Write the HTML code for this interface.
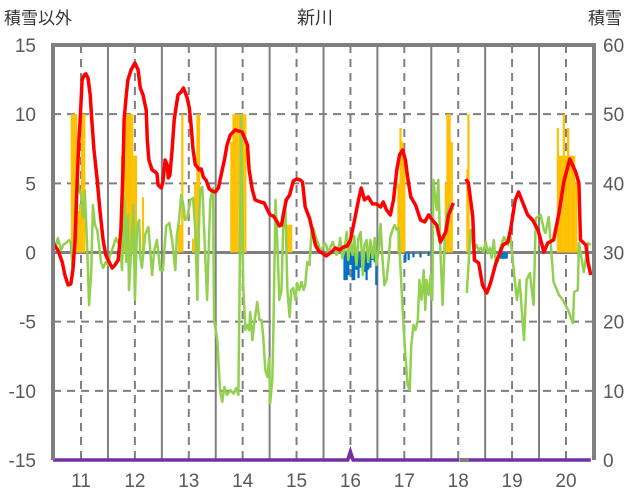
<!DOCTYPE html>
<html><head><meta charset="utf-8">
<style>
html,body{margin:0;padding:0;background:#fff;}
svg{display:block;font-family:"Liberation Sans","Noto Sans CJK JP",sans-serif;}
</style></head>
<body>
<svg id="chart" width="636" height="501" viewBox="0 0 636 501">
  <text x="315" y="24" font-size="18" fill="#333" text-anchor="middle">新川</text>
  <text x="4" y="24" font-size="17" fill="#333">積雪以外</text>
  <text x="588" y="24" font-size="17" fill="#333">積雪</text>
  <g id="grid"></g>
  <g id="bars"></g>
  <g id="lines"></g>
  <g id="axes"></g>
</svg>
<script>
const leftTicks = [15,10,5,0,-5,-10,-15];
const rightTicks = [60,50,40,30,20,10,0];
const yearLabels = [11,12,13,14,15,16,17,18,19,20];

const redT = [10.48,10.57,10.65,10.70,10.76,10.81,10.85,10.89,10.93,10.96,10.98,11.02,11.06,11.09,11.13,11.17,11.20,11.24,11.30,11.35,11.41,11.46,11.52,11.58,11.63,11.69,11.74,11.78,11.80,11.84,11.87,11.93,12.00,12.06,12.10,12.15,12.21,12.23,12.26,12.32,12.38,12.41,12.43,12.49,12.52,12.56,12.60,12.62,12.65,12.69,12.73,12.77,12.80,12.86,12.90,12.93,12.97,13.01,13.04,13.08,13.12,13.16,13.19,13.23,13.27,13.32,13.38,13.43,13.49,13.55,13.60,13.66,13.71,13.77,13.86,13.99,14.09,14.12,14.18,14.23,14.33,14.40,14.46,14.51,14.57,14.62,14.68,14.72,14.77,14.81,14.87,14.94,15.00,15.07,15.11,15.16,15.24,15.29,15.35,15.41,15.48,15.55,15.65,15.72,15.80,15.87,15.94,16.00,16.07,16.15,16.20,16.26,16.33,16.41,16.48,16.56,16.61,16.67,16.74,16.80,16.86,16.91,16.97,17.02,17.06,17.12,17.21,17.30,17.38,17.45,17.52,17.60,17.67,17.77,17.82,17.91,18.00,18.14,18.19,18.27,18.30,18.38,18.45,18.53,18.60,18.70,18.83,18.92,18.97,19.06,19.12,19.20,19.29,19.38,19.48,19.59,19.66,19.77,19.87,19.96,20.07,20.18,20.24,20.27,20.37,20.41,20.46];
const redV = [0.69,0.18,-0.69,-1.63,-2.35,-2.28,-1.27,0.90,5.24,8.13,9.22,12.47,12.83,12.91,12.62,11.39,9.58,7.41,5.24,3.07,0.90,-0.18,-0.69,-1.12,-0.90,-0.54,1.63,5.97,9.58,11.39,12.47,13.2,13.7,13.2,11.89,11.39,10.3,8.13,6.69,5.97,5.82,5.68,4.88,4.66,5.10,6.69,6.33,5.39,5.60,7.41,9.58,10.67,11.39,11.61,11.89,11.61,11.17,10.45,9.36,7.41,6.33,6.18,5.97,6.04,5.46,5.24,4.59,4.45,4.37,4.66,5.60,6.69,7.77,8.50,8.86,8.71,7.77,5.97,4.52,3.80,3.65,3.58,3.07,2.71,2.64,2.35,1.92,1.99,3.07,3.80,4.16,5.17,5.31,5.24,5.10,3.29,2.49,1.63,0.54,0.11,-0.04,-0.25,0.04,0.33,0.18,0.40,0.47,0.90,2.21,3.80,4.66,3.80,4.01,3.51,3.51,3.29,3.65,3.07,2.71,3.80,5.97,7.05,7.41,6.69,5.46,4.01,3.43,2.35,2.21,2.71,2.35,1.99,0.76,1.48,2.71,3.58,null,5.31,5.02,2.57,-0.54,-0.76,-2.35,-2.93,-2.21,-0.76,0.54,0.76,1.63,3.80,4.37,3.58,2.71,2.35,1.63,0.04,0.69,0.90,2.86,5.10,6.76,5.82,5.02,0.90,0.54,-0.76,-1.63];

const greenT = [10.48,10.54,10.57,10.63,10.67,10.72,10.78,10.81,10.85,10.89,10.93,10.96,11.00,11.04,11.07,11.11,11.15,11.19,11.22,11.26,11.30,11.33,11.37,11.41,11.46,11.50,11.54,11.59,11.65,11.69,11.72,11.76,11.80,11.84,11.87,11.89,11.93,11.97,12.00,12.04,12.08,12.10,12.13,12.19,12.25,12.28,12.32,12.36,12.41,12.47,12.52,12.58,12.64,12.69,12.75,12.78,12.82,12.86,12.90,12.93,12.97,13.03,13.08,13.12,13.16,13.17,13.21,13.25,13.30,13.34,13.40,13.45,13.47,13.53,13.58,13.62,13.66,13.71,13.77,13.83,13.88,13.92,13.96,13.97,14.01,14.05,14.09,14.12,14.14,14.18,14.21,14.27,14.31,14.35,14.38,14.42,14.46,14.49,14.51,14.55,14.57,14.61,14.64,14.68,14.72,14.75,14.79,14.83,14.87,14.90,14.94,14.98,15.01,15.05,15.09,15.13,15.16,15.20,15.24,15.28,15.31,15.35,15.41,15.44,15.48,15.52,15.55,15.59,15.63,15.67,15.70,15.74,15.78,15.81,15.85,15.89,15.93,15.96,16.00,16.04,16.07,16.11,16.15,16.19,16.23,16.26,16.30,16.33,16.37,16.41,16.45,16.48,16.52,16.56,16.59,16.63,16.67,16.71,16.74,16.78,16.82,16.86,16.89,16.93,16.95,16.99,17.02,17.06,17.10,17.13,17.17,17.21,17.25,17.28,17.32,17.36,17.39,17.41,17.45,17.49,17.52,17.54,17.60,17.63,17.67,17.71,17.75,17.78,17.84,17.91,18.00,18.16,18.23,18.29,18.34,18.38,18.42,18.47,18.51,18.55,18.59,18.62,18.66,18.70,18.74,18.77,18.85,18.92,18.97,19.03,19.09,19.14,19.18,19.22,19.27,19.33,19.40,19.44,19.53,19.59,19.62,19.68,19.77,19.87,19.94,20.04,20.13,20.15,20.22,20.24,20.33,20.41,20.46];
const greenV = [0.90,0.54,1.05,0.18,0.54,0.69,0.90,0.69,-1.41,3.43,5.97,4.66,4.16,2.49,4.45,0.90,-3.80,-1.27,3.43,1.99,1.63,0.69,-0.69,-1.12,-0.69,-0.90,-0.18,0.33,1.05,0.69,0.90,-1.27,4.01,-0.69,2.71,-2.71,0.18,3.43,-3.43,1.92,2.35,-0.33,-1.12,1.27,1.84,0.40,-1.63,0.18,0.90,-1.27,-1.27,1.92,2.13,0.90,-1.27,1.27,2.35,4.16,3.43,2.35,2.49,3.80,3.94,1.63,-3.43,-0.54,4.52,4.74,0.18,-3.43,3.80,4.66,-4.88,-6.33,-9.94,-10.8,-9.72,-10.3,-9.94,-10.2,-9.8,-10.3,3.80,9.87,-2.35,-5.6,-5.24,-5.6,-4.30,-6.33,-5.24,-3.58,-4.88,-4.88,-5.97,-8.50,-9.0,-7.63,-10.9,-9.2,-5.6,3.80,0.90,-3.43,-2.71,1.63,3.80,-2.71,-4.66,-2.71,-2.57,-3.43,-2.21,-2.71,-2.13,-2.71,-2.35,-0.69,-0.90,1.63,1.77,1.19,0.54,0.04,0.33,0.69,0.54,-0.04,0.40,0.76,0.33,-0.18,0.18,1.05,-0.40,0.18,1.48,-0.54,0.90,-0.18,1.19,-0.90,1.05,1.48,-1.63,0.54,0.90,-0.69,0.90,-0.40,1.05,-0.90,0.04,2.06,-0.18,-2.35,-1.99,-0.54,1.12,1.63,1.99,1.63,1.77,-1.27,-2.71,-5.6,-7.41,-9.58,-9.94,-6.69,-5.24,-5.6,-4.88,-1.99,-3.43,-1.27,-4.16,-1.99,-3.07,-1.63,-3.43,5.24,3.07,5.24,0.18,-3.80,0.90,2.71,3.43,3.07,null,-2.93,1.63,0.18,0.54,0.18,0.33,0.04,0.76,-0.04,0.33,-0.40,0.90,-0.90,-0.54,0.18,1.12,0.54,1.12,-1.27,-3.43,-1.99,-4.16,-6.33,-1.99,-1.48,-3.80,2.49,2.71,1.63,1.41,2.57,-2.13,-3.07,-3.43,-4.16,-5.10,-2.86,-2.71,0.69,-1.41,0.69,0.54];

const orangeT = [10.83,10.87,10.91,10.94,10.98,11.02,11.06,11.76,11.80,11.84,11.87,11.91,11.95,11.99,12.02,12.15,12.82,12.86,12.88,13.08,13.12,13.16,13.19,13.79,13.83,13.86,13.90,13.94,13.97,14.01,14.05,14.83,14.87,14.90,16.89,16.93,16.97,17.00,17.77,17.80,17.84,17.88,18.17,18.19,19.85,19.89,19.92,19.96,20.00,20.04,20.07,20.11,20.15,20.19];
const orangeV = [50,50,50,36,37,50,50,44,44,50,50,50,50,44,44,38,34,34,50,32,40,50,50,46,50,50,50,50,50,50,50,34,34,34,40,48,46,44,40,50,50,46,42,50,48,44,44,50,44,48,44,44,44,40];
const blueT = [15.89,15.93,15.96,16.00,16.04,16.07,16.11,16.15,16.19,16.23,16.26,16.30,16.33,16.37,16.41,16.45,16.48,17.02,17.08,17.17,17.30,17.45,18.79,18.83,18.86,18.90];
const blueV = [26,26,26.7,28.2,26,26,27.5,26.3,27.8,28.2,27.2,26,27.5,27.8,28.9,28.6,25.3,28.6,28.9,29.3,29.3,29.5,29.1,29.1,29.1,29.1];

const purpleT = [10.48,15.95,16.0,16.05,18.02,18.03,18.2,20.46];
const purpleV = [0,0,1.2,0,0,null,0,0];

const NS = "http://www.w3.org/2000/svg";
const L = 53, R = 594, T = 45, B = 460;
const tMin = 10.48, tMax = 20.52;
const xS = t => L + (t - tMin) / (tMax - tMin) * (R - L);
const yL = v => T + (15 - v) / 30 * (B - T);
const yR = v => T + (60 - v) / 60 * (B - T);

function mk(tag, attrs, parent) {
  const e = document.createElementNS(NS, tag);
  for (const k in attrs) e.setAttribute(k, attrs[k]);
  parent.appendChild(e);
  return e;
}
const grid = document.getElementById('grid');
const bars = document.getElementById('bars');
const lines = document.getElementById('lines');
const axes = document.getElementById('axes');

// horizontal dashed gridlines
leftTicks.forEach(v => {
  if (v === 15 || v === -15 || v === 0) return;
  const g = mk('line', {x1:L, x2:R, y1:yL(v), y2:yL(v), stroke:'#7f7f7f', 'stroke-width':2, 'stroke-dasharray':'8,6'}, grid);
  
  
});
// vertical lines
yearLabels.forEach(y => {
  const d = mk('line', {x1:xS(y), x2:xS(y), y1:T, y2:B, stroke:'#7f7f7f', 'stroke-width':2, 'stroke-dasharray':'8,6'}, grid);
  
  
  if (y < 20) {
    const s = mk('line', {x1:xS(y+0.5), x2:xS(y+0.5), y1:T, y2:B, stroke:'#7f7f7f', 'stroke-width':2}, grid);
    
    
  }
});

// bars
const bw = 2.2;
orangeT.forEach((t, i) => {
  const y0 = yR(30), y1 = yR(orangeV[i]);
  const r = mk('rect', {x:xS(t)-bw/2, y:Math.min(y0,y1), width:bw, height:Math.abs(y0-y1), fill:'#FFC000'}, bars);
  
  
});
blueT.forEach((t, i) => {
  const y0 = yR(30), y1 = yR(blueV[i]);
  const r = mk('rect', {x:xS(t)-bw/2, y:Math.min(y0,y1), width:bw, height:Math.abs(y0-y1), fill:'#0070C0'}, bars);
  
  
});

// zero line
const z = mk('line', {x1:L, x2:R, y1:yL(0), y2:yL(0), stroke:'#7f7f7f', 'stroke-width':3}, grid);



function pathFrom(ts, vs, ys) {
  let d = '', pen = false;
  ts.forEach((t, i) => {
    const v = vs[i];
    if (v === null) { pen = false; return; }
    d += (pen ? 'L' : 'M') + xS(t).toFixed(1) + ',' + ys(v).toFixed(1);
    pen = true;
  });
  return d;
}
const gp = mk('path', {d:pathFrom(greenT, greenV, yL), fill:'none', stroke:'#92D050', 'stroke-width':2.5, 'stroke-linejoin':'round'}, lines);


const rp = mk('path', {d:pathFrom(redT, redV, yL), fill:'none', stroke:'#FF0000', 'stroke-width':3.5, 'stroke-linejoin':'round'}, lines);


const gap = mk('line', {x1:xS(18.03), x2:xS(18.2), y1:B, y2:B, stroke:'#7f7f7f', 'stroke-width':4}, lines);


const pp = mk('path', {d:pathFrom(purpleT, purpleV, yR), fill:'none', stroke:'#7030A0', 'stroke-width':3.5}, lines);



// frame
const fr = mk('path', {d:`M${L},${B}V${T}H${R}V${B}`, fill:'none', stroke:'#7f7f7f', 'stroke-width':4}, axes);



leftTicks.forEach(v => {
  const t = mk('text', {x:36, y:yL(v)+7, 'font-size':19, fill:'#595959', 'text-anchor':'end'}, axes);
  t.textContent = v;
  
  
});
rightTicks.forEach(v => {
  const t = mk('text', {x:603, y:yR(v)+7, 'font-size':19, fill:'#595959'}, axes);
  t.textContent = v;
  
  
});
yearLabels.forEach(y => {
  const t = mk('text', {x:xS(y), y:487, 'font-size':19, fill:'#595959', 'text-anchor':'middle'}, axes);
  t.textContent = y;
  
  
});
</script>
</body></html>
